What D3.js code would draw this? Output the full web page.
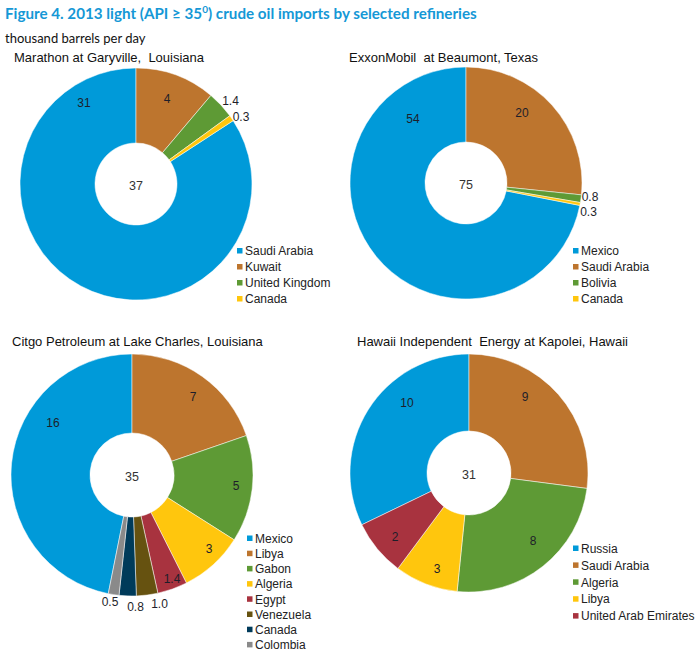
<!DOCTYPE html>
<html lang="en">
<head>
    <meta charset="UTF-8">
    <title>2013 light crude oil imports by selected refineries</title>
    <script src="https://d3js.org/d3.v7.min.js"></script>
    <style>
        body { margin: 0; background: white; }
        svg { display: block; font-family: 'Liberation Sans', Arial, sans-serif; }
        text { white-space: pre; }
    </style>
</head>
<body>
<div id="chart"></div>
<script>
    // data, thousand barrels per day
    var marathonCountries = ['Saudi Arabia', 'Kuwait', 'United Kingdom', 'Canada'];
    var marathonValues = [30.9, 4.1, 1.4, 0.3];

    var exxonCountries = ['Mexico', 'Saudi Arabia', 'Bolivia', 'Canada'];
    var exxonValues = [54, 20, 0.8, 0.3];

    var citgoCountries = ['Mexico', 'Libya', 'Gabon', 'Algeria', 'Egypt', 'Venezuela', 'Canada', 'Colombia'];
    var citgoValues = [16.4, 6.9, 5.0, 3.0, 1.4, 1.0, 0.8, 0.5];

    var hawaiiCountries = ['Russia', 'Saudi Arabia', 'Algeria', 'Libya', 'United Arab Emirates'];
    var hawaiiValues = [10.1, 8.5, 7.7, 2.7, 2.4];

    var palette = ['#009ad9', '#bd752e', '#5e9a35', '#ffc60d', '#a8333f', '#665210', '#003b5a', '#8a8a8a'];

    var width = 696, height = 669;

    // layout of the four panels (label offsets are from the pie centre)
    var panels = [
        { title: 'Marathon at Garyville,  Louisiana', countries: marathonCountries, values: marathonValues,
          tx: 14, ty: 62, cx: 136, cy: 184, r: 116, hole: 41, lx: 237, ly: 251, step: 16,
          labels: [[-52, -81], [31, -85], [94.5, -83], [105, -67]] },
        { title: 'ExxonMobil  at Beaumont, Texas', countries: exxonCountries, values: exxonValues,
          tx: 349, ty: 62, cx: 466, cy: 183, r: 116, hole: 41, lx: 573, ly: 251, step: 16,
          labels: [[-53, -64], [56, -70], [124, 14], [122.5, 29]] },
        { title: 'Citgo Petroleum at Lake Charles, Louisiana', countries: citgoCountries, values: citgoValues,
          tx: 12, ty: 346, cx: 132, cy: 475, r: 121, hole: 42, lx: 247, ly: 538.5, step: 15.2,
          labels: [[-79, -52], [61, -78], [104, 11], [77, 74], [40, 104], [27.5, 129], [3.5, 132], [-22, 127]] },
        { title: 'Hawaii Independent  Energy at Kapolei, Hawaii', countries: hawaiiCountries, values: hawaiiValues,
          tx: 357, ty: 346, cx: 469, cy: 473, r: 119, hole: 42, lx: 573, ly: 548.5, step: 16.9,
          labels: [[-62, -70], [56, -76], [64, 68], [-32, 96], [-74, 64]] }
    ];

    var svg = d3.select('#chart').append('svg')
        .attr('width', width)
        .attr('height', height);

    // figure title
    var title = svg.append('text')
        .attr('x', 5)
        .attr('y', 19)
        .style('font-family', 'Lato, "Open Sans", sans-serif')
        .style('font-size', '15.2px')
        .style('font-weight', 'bold')
        .style('fill', '#1598d6');
    title.append('tspan').text('Figure 4. 2013 light (API \u2265 35');
    title.append('tspan').attr('dy', -6).style('font-size', '10px').text('0');
    title.append('tspan').attr('dy', 6).text(') crude oil imports by selected refineries');

    svg.append('text')
        .attr('x', 5)
        .attr('y', 43)
        .style('font-family', 'Lato, "Open Sans", sans-serif')
        .style('font-size', '13px')
        .style('fill', '#111')
        .text('thousand barrels per day');

    var fmt = function(v) { return v < 2 ? v.toFixed(1) : d3.format('.0f')(v); };

    panels.forEach(function(p) {
        var total = d3.sum(p.values);
        var start = -2 * Math.PI * p.values[0] / total; // first slice ends at 12 o'clock

        var pie = d3.pie().sort(null)
            .startAngle(start)
            .endAngle(start + 2 * Math.PI);

        var arc = d3.arc().innerRadius(p.hole).outerRadius(p.r);

        var color = d3.scaleOrdinal().domain(p.countries).range(palette);

        svg.append('text')
            .attr('x', p.tx)
            .attr('y', p.ty)
            .style('font-size', '13px')
            .style('fill', '#111')
            .text(p.title);

        var g = svg.append('g')
            .attr('transform', 'translate(' + p.cx + ',' + p.cy + ')');

        g.selectAll('path')
            .data(pie(p.values))
            .enter().append('path')
            .attr('d', arc)
            .attr('fill', (d, i) => color(p.countries[i]))
            .attr('stroke', 'white')
            .attr('stroke-width', 0.5);

        g.selectAll('.val')
            .data(p.values)
            .enter().append('text')
            .attr('class', 'val')
            .attr('x', (d, i) => p.labels[i][0])
            .attr('y', (d, i) => p.labels[i][1])
            .attr('dy', '0.35em')
            .attr('text-anchor', 'middle')
            .style('font-size', '12px')
            .style('fill', '#1e1e2a')
            .text(d => fmt(d));

        g.append('text')
            .attr('y', 2)
            .attr('dy', '0.35em')
            .attr('text-anchor', 'middle')
            .style('font-size', '12.5px')
            .style('fill', '#333')
            .text(d3.format('.0f')(total));

        // legend
        var legend = svg.selectAll(null)
            .data(p.countries)
            .enter().append('g')
            .attr('transform', (d, i) => 'translate(' + p.lx + ',' + (p.ly + i * p.step) + ')');

        legend.append('rect')
            .attr('x', 0)
            .attr('y', -3)
            .attr('width', 5.5)
            .attr('height', 5.5)
            .attr('fill', d => color(d));

        legend.append('text')
            .attr('x', 8)
            .attr('dy', '0.35em')
            .style('font-size', '12px')
            .style('fill', '#222')
            .text(d => d);
    });
</script>
</body>
</html>
